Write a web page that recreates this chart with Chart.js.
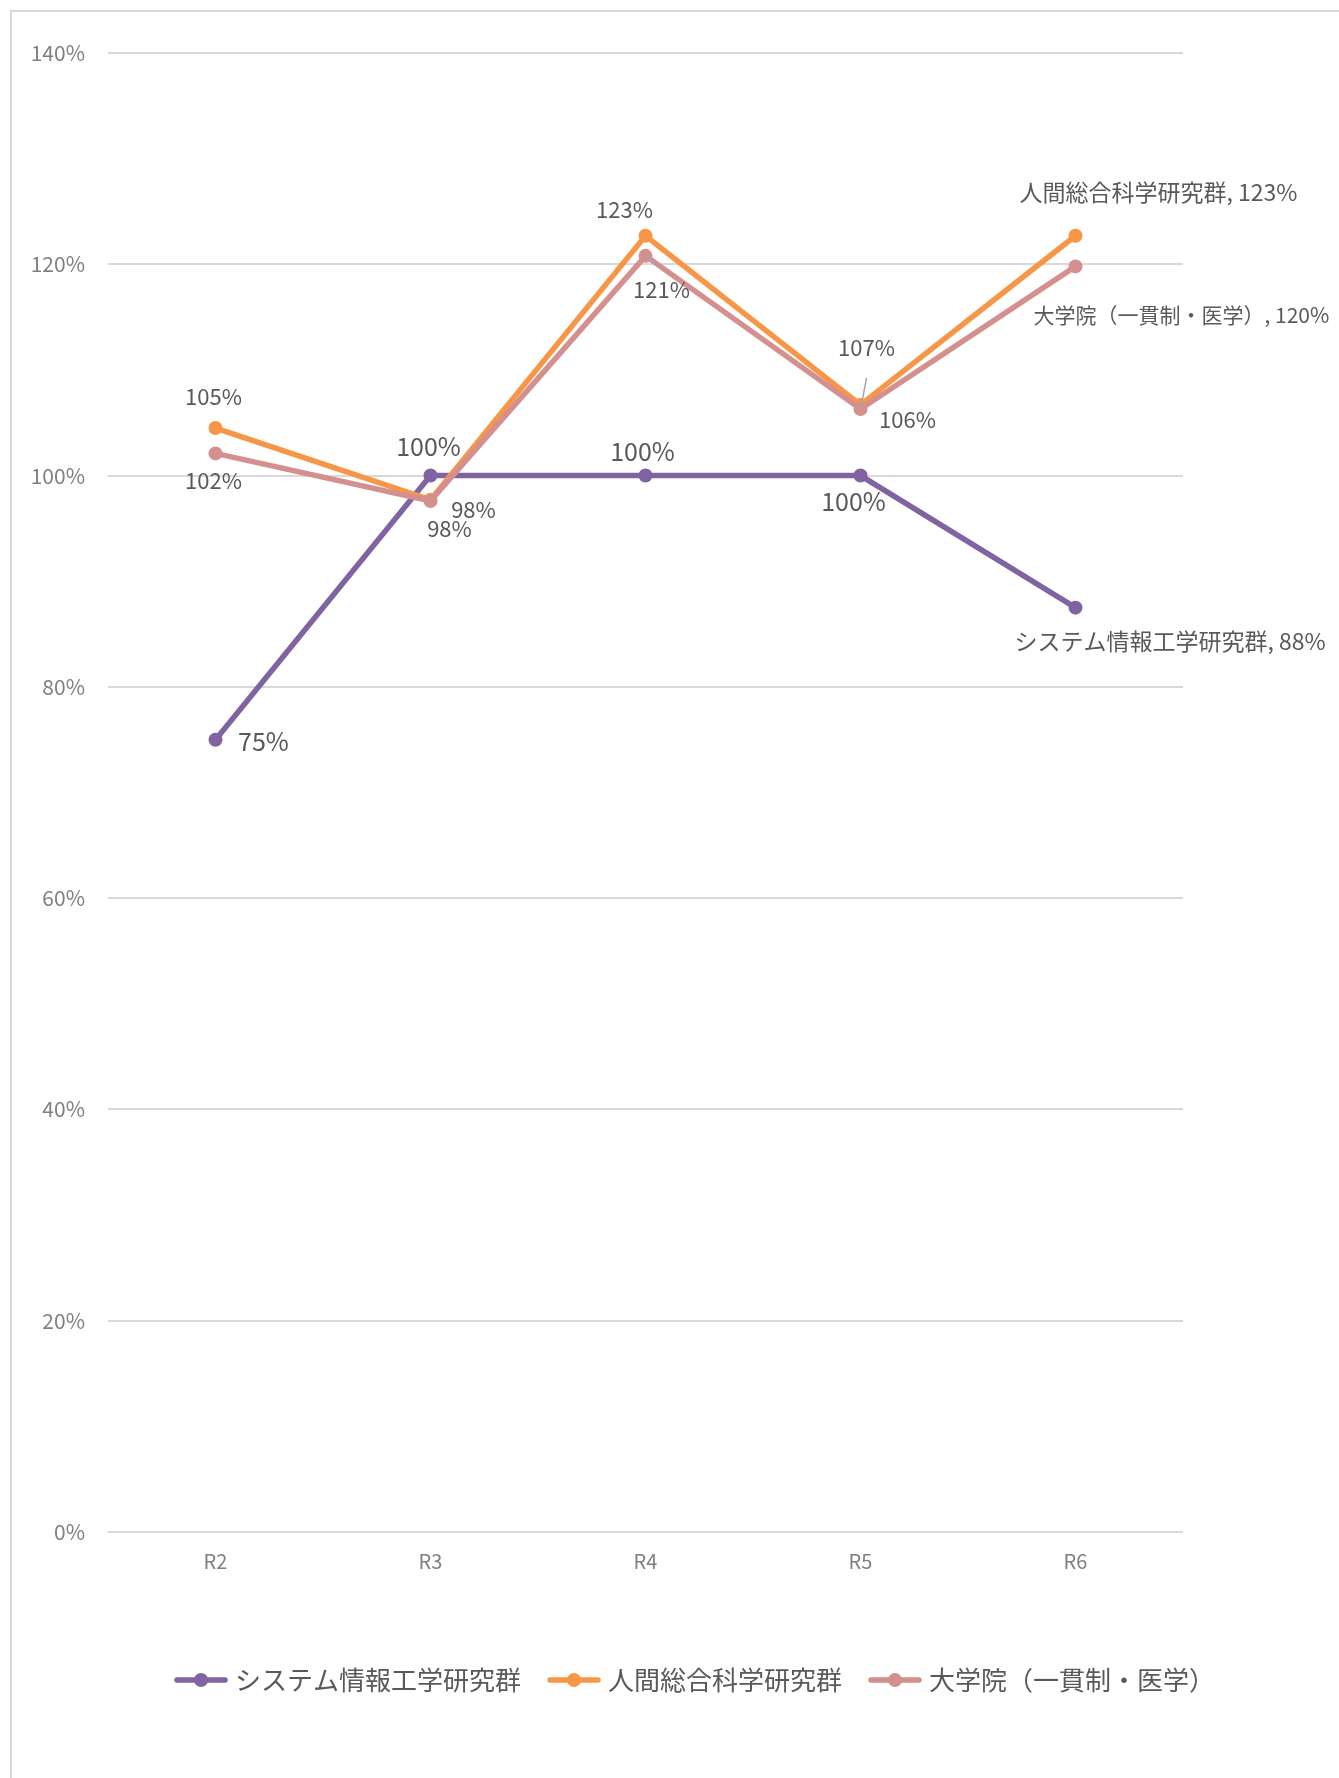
<!DOCTYPE html>
<html>
<head>
<meta charset="utf-8">
<script src="https://cdn.jsdelivr.net/npm/chart.js@4.4.0/dist/chart.umd.min.js"></script>
<style>
  html, body { margin: 0; padding: 0; background: #fff; }
  #wrap { position: relative; width: 1339px; height: 1778px; overflow: hidden; }
  #frame { position: absolute; left: 10px; top: 10px; width: 1400px; height: 1800px; border: 2px solid #d9d9d9; }
  #chart { position: absolute; left: 0; top: 0; }
</style>
</head>
<body>
<div id="wrap">
  <div id="frame"></div>
  <canvas id="chart" width="1339" height="1778"></canvas>
</div>
<script>
const categories = ['R2', 'R3', 'R4', 'R5', 'R6'];
const seriesNames = ['システム情報工学研究群', '人間総合科学研究群', '大学院（一貫制・医学）'];
const systemValues = [75, 100, 100, 100, 87.5];
const humanValues = [104.5, 97.7, 122.7, 106.7, 122.7];
const graduateValues = [102.1, 97.6, 120.8, 106.3, 119.8];
const yTicks = [0, 20, 40, 60, 80, 100, 120, 140];

const colors = ['#8064A2', '#F79646', '#D4908F'];
const FONT = '"Noto Sans CJK JP", "Noto Sans", sans-serif';

// label placement relative to each point (dx, dy); the last one is left aligned
const labelStyles = [
  { size: 25, end: 23, offsets: [[48, 2], [-2, -29], [-3, -24], [-7, 26], [-61, 34]] },
  { size: 22, end: 23, offsets: [[-2, -31], [19, 29], [-21, -26], [6, -57], [-56, -43]] },
  { size: 22, end: 21, offsets: [[-2, 27], [43, 9], [16, 34], [47, 11], [-42, 49]] }
];
// leader lines: [dataset, index, x0, y0, x1, y1] relative to the point
const leaders = [
  [1, 3, 6, -27, 1, 0],
  [2, 2, 0, 0, 15, 12]
];

function legendMarker(color) {
  const c = document.createElement('canvas');
  c.width = 54; c.height = 16;
  const g = c.getContext('2d');
  g.strokeStyle = color; g.lineWidth = 5.5; g.lineCap = 'round';
  g.beginPath(); g.moveTo(3, 8); g.lineTo(51, 8); g.stroke();
  g.fillStyle = color;
  g.beginPath(); g.arc(27, 8, 7, 0, Math.PI * 2); g.fill();
  return c;
}

const dataLabels = {
  id: 'dataLabels',
  afterDatasetsDraw(chart) {
    const ctx = chart.ctx;
    ctx.save();
    ctx.strokeStyle = '#a6a6a6';
    ctx.lineWidth = 1.5;
    leaders.forEach(([ds, i, x0, y0, x1, y1]) => {
      const p = chart.getDatasetMeta(ds).data[i];
      ctx.beginPath();
      ctx.moveTo(p.x + x0, p.y + y0);
      ctx.lineTo(p.x + x1, p.y + y1);
      ctx.stroke();
    });
    ctx.fillStyle = '#595959';
    ctx.textBaseline = 'middle';
    chart.data.datasets.forEach((dataset, ds) => {
      const meta = chart.getDatasetMeta(ds);
      const style = labelStyles[ds];
      dataset.data.forEach((v, i) => {
        const p = meta.data[i];
        const [dx, dy] = style.offsets[i];
        const pct = Math.round(v) + '%';
        if (i === dataset.data.length - 1) {
          ctx.font = style.end + 'px ' + FONT;
          ctx.textAlign = 'left';
          ctx.fillText(dataset.label + ', ' + pct, p.x + dx, p.y + dy);
        } else {
          ctx.font = style.size + 'px ' + FONT;
          ctx.textAlign = 'center';
          ctx.fillText(pct, p.x + dx, p.y + dy);
        }
      });
    });
    ctx.restore();
  }
};

const legendShift = {
  id: 'legendShift',
  afterLayout(chart) {
    chart.legend.left += 128;
    chart.legend.right += 128;
  }
};

const datasets = [systemValues, humanValues, graduateValues].map((values, k) => ({
  label: seriesNames[k],
  data: values,
  borderColor: colors[k],
  backgroundColor: colors[k],
  borderWidth: 5.5,
  pointRadius: 7,
  pointBorderWidth: 0,
  pointBackgroundColor: colors[k],
  tension: 0,
  order: 2 - k
}));

new Chart(document.getElementById('chart'), {
  type: 'line',
  data: { labels: categories, datasets: datasets },
  options: {
    responsive: false,
    animation: false,
    layout: { padding: { left: 20, right: 156, top: 53, bottom: 75 } },
    plugins: {
      tooltip: { enabled: false },
      legend: {
        position: 'bottom',
        align: 'start',
        labels: {
          usePointStyle: true,
          pointStyleWidth: 42,
          padding: 32,
          color: '#595959',
          font: { family: FONT, size: 26 },
          sort: (a, b) => a.datasetIndex - b.datasetIndex,
          generateLabels(chart) {
            const items = Chart.defaults.plugins.legend.labels.generateLabels(chart);
            return items.map(item => Object.assign(item, { pointStyle: legendMarker(colors[item.datasetIndex]) }));
          }
        }
      }
    },
    scales: {
      x: {
        offset: true,
        grid: { display: false },
        border: { display: false },
        ticks: { color: '#808080', font: { family: FONT, size: 20 }, padding: 9 },
        afterFit(scale) { scale.height = 103; }
      },
      y: {
        min: 0,
        max: 140,
        afterBuildTicks(scale) { scale.ticks = yTicks.map(v => ({ value: v })); },
        grid: { color: '#d9d9d9', lineWidth: 2, drawTicks: false },
        border: { display: false },
        ticks: { color: '#808080', font: { family: FONT, size: 21 }, padding: 23, callback: v => v + '%' },
        afterFit(scale) { scale.width = 88; }
      }
    }
  },
  plugins: [dataLabels, legendShift]
});
</script>
</body>
</html>
